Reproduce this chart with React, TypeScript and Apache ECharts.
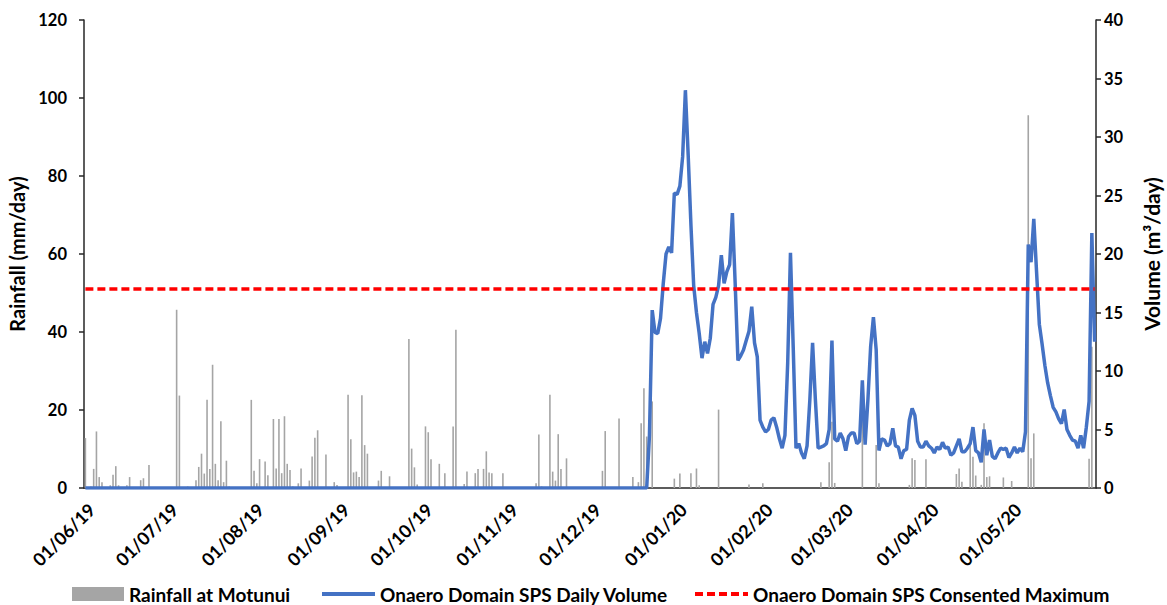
import React, { useEffect, useRef } from "react";
import * as echarts from "echarts";

// ---- Data ----
const START_YEAR = 2019;
const START_MONTH = 5; // June (0-based)
const NUM_DAYS = 366; // 01/06/19 .. 31/05/20

// Rainfall at Motunui (mm/day): day index (0 = 01/06/19) and value
const rainDay = [
  0, 2, 3, 4, 5, 6, 9, 10, 11, 12, 15, 16, 20, 21, 23, 33, 34, 37, 40, 41, 42, 43, 44, 45, 46, 47, 48, 49, 50, 51, 52,
  60, 61, 62, 63, 65, 66, 68, 69, 70, 71, 72, 73, 74, 75, 77, 78, 81, 82, 83, 84, 87, 90, 91, 95, 96, 97, 98, 99, 100,
  101, 102, 106, 107, 110, 117, 118, 119, 120, 123, 124, 125, 128, 130, 133, 134, 137, 138, 141, 142, 144, 145, 146,
  147, 151, 163, 164, 165, 168, 169, 170, 171, 172, 174, 187, 188, 193, 198, 200, 201, 202, 203, 205, 213, 215, 219,
  221, 222, 229, 240, 245, 266, 269, 270, 271, 281, 286, 287, 298, 299, 300, 304, 315, 316, 317, 320, 321, 322, 324,
  325, 326, 327, 332, 335, 341, 342, 343, 363, 364,
];
const rainMm = [
  12.8, 0.4, 4.9, 14.5, 2.8, 1.5, 0.7, 3.4, 5.6, 0.7, 0.7, 2.8, 2.0, 2.5, 5.9, 45.7, 23.7, 0.4, 2.0, 5.4, 8.8, 3.7, 22.6, 4.9, 31.6, 6.2, 2.0, 17.1, 1.5, 7.0, 0.4,
  22.6, 4.4, 1.2, 7.4, 6.8, 3.3, 17.7, 5.0, 17.7, 3.8, 18.4, 6.2, 4.6, 0.4, 1.2, 5.0, 1.9, 8.1, 12.9, 14.8, 8.6, 1.5, 0.8, 23.9, 12.5, 4.0, 4.2, 2.8, 23.8,
  11.0, 8.8, 1.9, 4.4, 3.0, 38.2, 10.1, 5.3, 0.9, 15.8, 14.3, 7.4, 6.2, 3.8, 15.8, 40.6, 1.0, 4.2, 3.8, 4.9, 4.9, 9.4, 4.0,
  3.8, 3.8, 1.2, 13.7, 0.4, 23.9, 4.2, 1.9, 13.8, 4.9, 7.6, 4.4, 14.6, 17.8, 2.8, 1.5, 16.6, 25.6, 13.2, 22.2, 2.4, 3.7, 3.8,
  5.0, 0.7, 20.1, 0.9, 1.2, 1.5, 6.6, 17.0, 1.3, 27.0, 11.0, 1.2, 0.8, 7.6, 7.2, 7.4, 3.6, 5.0, 1.6, 11.8, 8.0, 3.2, 0.8,
  16.6, 2.8, 3.0, 2.7, 1.8, 95.6, 7.6, 14.0, 7.5, 36.2,
];

// Onaero Domain SPS Daily Volume (m3/day): zero until pumping starts
const volumeStartDay = 204; // 22/12/19
const volumeM3 = [
  4.5, 15.2, 13.3, 13.2, 14.5, 17.5, 20.0, 20.6, 20.1, 25.2, 25.1, 25.8, 28.3, 34.0, 28.5, 22.5, 17.3, 15.0, 13.2, 11.1,
  12.5, 11.5, 12.8, 15.7, 16.3, 17.3, 19.9, 17.5, 18.5, 19.1, 23.5, 17.5, 10.9, 11.3, 11.8, 12.6, 13.4, 15.5, 12.4, 11.2,
  5.8, 5.2, 4.8, 5.0, 5.8, 6.0, 5.2, 4.2, 3.4, 4.5, 10.7, 20.1, 12.0, 3.4, 3.8, 3.0, 2.5, 3.6, 7.5, 12.4,
  7.6, 3.4, 3.5, 3.6, 3.8, 5.0, 12.6, 4.2, 4.0, 4.7, 4.2, 3.2, 4.4, 4.7, 4.7, 3.8, 4.0, 9.2, 3.7, 7.5,
  12.1, 14.6, 11.8, 3.2, 4.2, 4.1, 3.6, 3.8, 5.1, 3.6, 3.5, 2.5, 3.2, 3.3, 5.8, 6.8, 6.2, 4.0, 3.5, 3.5,
  4.0, 3.6, 3.4, 3.0, 3.5, 3.3, 3.9, 3.4, 3.5, 2.8, 3.0, 3.6, 4.2, 3.1, 3.1, 3.4, 3.8, 5.2, 3.2, 3.0,
  2.2, 5.0, 2.8, 4.1, 2.7, 2.5, 3.0, 3.4, 3.3, 3.4, 2.6, 3.0, 3.5, 3.0, 3.4, 3.1, 4.8, 20.8, 19.3, 23.0,
  18.5, 14.0, 12.3, 10.5, 9.0, 7.9, 6.9, 6.5, 5.9, 5.5, 6.7, 5.0, 4.5, 4.1, 4.0, 3.4, 4.5, 3.4, 5.2, 7.4,
  21.8, 12.5,
];

const CONSENTED_MAX = 17; // m3/day

const leftTicks = { min: 0, max: 120, interval: 20 };
const rightTicks = { min: 0, max: 40, interval: 5 };

const SERIES_RAIN = "Rainfall at Motunui";
const SERIES_VOL = "Onaero Domain SPS Daily Volume";
const SERIES_MAX = "Onaero Domain SPS Consented Maximum";

// ---- Build tables for the library ----
function pad(n: number) {
  return n < 10 ? "0" + n : "" + n;
}
const categories: string[] = [];
for (let i = 0; i < NUM_DAYS; i++) {
  const d = new Date(Date.UTC(START_YEAR, START_MONTH, 1 + i));
  categories.push(pad(d.getUTCDate()) + "/" + pad(d.getUTCMonth() + 1) + "/" + pad(d.getUTCFullYear() % 100));
}
const rainSeries: number[] = categories.map(() => 0);
rainDay.forEach((d, k) => {
  rainSeries[d] = rainMm[k];
});
const volumeSeries: number[] = categories.map((_, i) =>
  i < volumeStartDay ? 0 : volumeM3[i - volumeStartDay]
);
const maxSeries: number[] = categories.map(() => CONSENTED_MAX);

const FONT = "Lato";
const AXIS_COLOR = "#262626";
const DASH_ICON = "path://M0,0h8v4h-8z M12,0h8v4h-8z M24,0h8v4h-8z M36,0h8v4h-8z M48,0h5v4h-5z";

export default function App() {
  const ref = useRef<HTMLDivElement>(null);
  useEffect(() => {
    document.body.style.margin = "0";
    if (!ref.current) return;
    const chart = echarts.init(ref.current, undefined, { renderer: "svg" });
    const legendText = { fontFamily: FONT, fontWeight: "bold" as const, fontSize: 19, color: "#000", lineHeight: 20 };
    const legendBase = { top: 584, padding: 0, itemWidth: 53, textStyle: legendText, itemGap: 0 };
    chart.setOption({
      animation: false,
      backgroundColor: "#ffffff",
      textStyle: { fontFamily: FONT },
      grid: { left: 84, right: 71, top: 20, bottom: 117, containLabel: false, outerBoundsMode: "none" },
      legend: [
        { ...legendBase, left: 72, itemWidth: 52, itemHeight: 14, data: [{ name: SERIES_RAIN, icon: "rect" }] },
        { ...legendBase, left: 322, itemHeight: 4, data: [{ name: SERIES_VOL, icon: "rect" }] },
        { ...legendBase, left: 695, itemHeight: 4, data: [{ name: SERIES_MAX, icon: DASH_ICON }] },
      ],
      xAxis: {
        type: "category",
        data: categories,
        boundaryGap: true,
        axisLine: { show: true, lineStyle: { color: AXIS_COLOR, width: 1.5 } },
        axisTick: { show: false },
        axisLabel: {
          interval: (index: number, value: string) => value.startsWith("01/"),
          rotate: 45,
          verticalAlign: "top",
          fontFamily: FONT,
          fontWeight: "bold",
          fontSize: 18,
          color: "#000",
          margin: 12,
        },
        splitLine: { show: false },
      },
      yAxis: [
        {
          type: "value",
          min: leftTicks.min,
          max: leftTicks.max,
          interval: leftTicks.interval,
          name: "Rainfall (mm/day)",
          nameLocation: "middle",
          nameRotate: 90,
          nameGap: 56,
          nameTextStyle: { fontFamily: FONT, fontWeight: "bold", fontSize: 20, color: "#000" },
          axisLine: { show: true, lineStyle: { color: AXIS_COLOR, width: 1.5 } },
          axisTick: { show: true, length: 5, lineStyle: { color: AXIS_COLOR, width: 1.5 } },
          axisLabel: { fontFamily: FONT, fontWeight: "bold", fontSize: 16.5, color: "#000", margin: 17 },
          splitLine: { show: false },
        },
        {
          type: "value",
          position: "right",
          min: rightTicks.min,
          max: rightTicks.max,
          interval: rightTicks.interval,
          name: "Volume (m³/day)",
          nameLocation: "middle",
          nameRotate: 90,
          nameGap: 45,
          nameTextStyle: { fontFamily: FONT, fontWeight: "bold", fontSize: 21, color: "#000" },
          axisLine: { show: true, lineStyle: { color: AXIS_COLOR, width: 1.5 } },
          axisTick: { show: true, length: 5, lineStyle: { color: AXIS_COLOR, width: 1.5 } },
          axisLabel: { fontFamily: FONT, fontWeight: "bold", fontSize: 16.5, color: "#000", margin: 8 },
          splitLine: { show: false },
        },
      ],
      series: [
        {
          name: SERIES_RAIN,
          type: "bar",
          yAxisIndex: 0,
          data: rainSeries,
          barWidth: 1.6,
          itemStyle: { color: "#A5A5A5" },
          z: 1,
        },
        {
          name: SERIES_VOL,
          type: "line",
          yAxisIndex: 1,
          data: volumeSeries,
          symbol: "none",
          showSymbol: false,
          lineStyle: { color: "#4472C4", width: 3.5 },
          itemStyle: { color: "#4472C4" },
          z: 3,
        },
        {
          name: SERIES_MAX,
          type: "line",
          yAxisIndex: 1,
          data: maxSeries,
          symbol: "none",
          showSymbol: false,
          lineStyle: { color: "#FF0000", width: 3.5, type: [8, 4] },
          itemStyle: { color: "#FF0000" },
          z: 4,
        },
      ],
    });
    return () => chart.dispose();
  }, []);
  return <div ref={ref} style={{ width: 1167, height: 605 }} />;
}
